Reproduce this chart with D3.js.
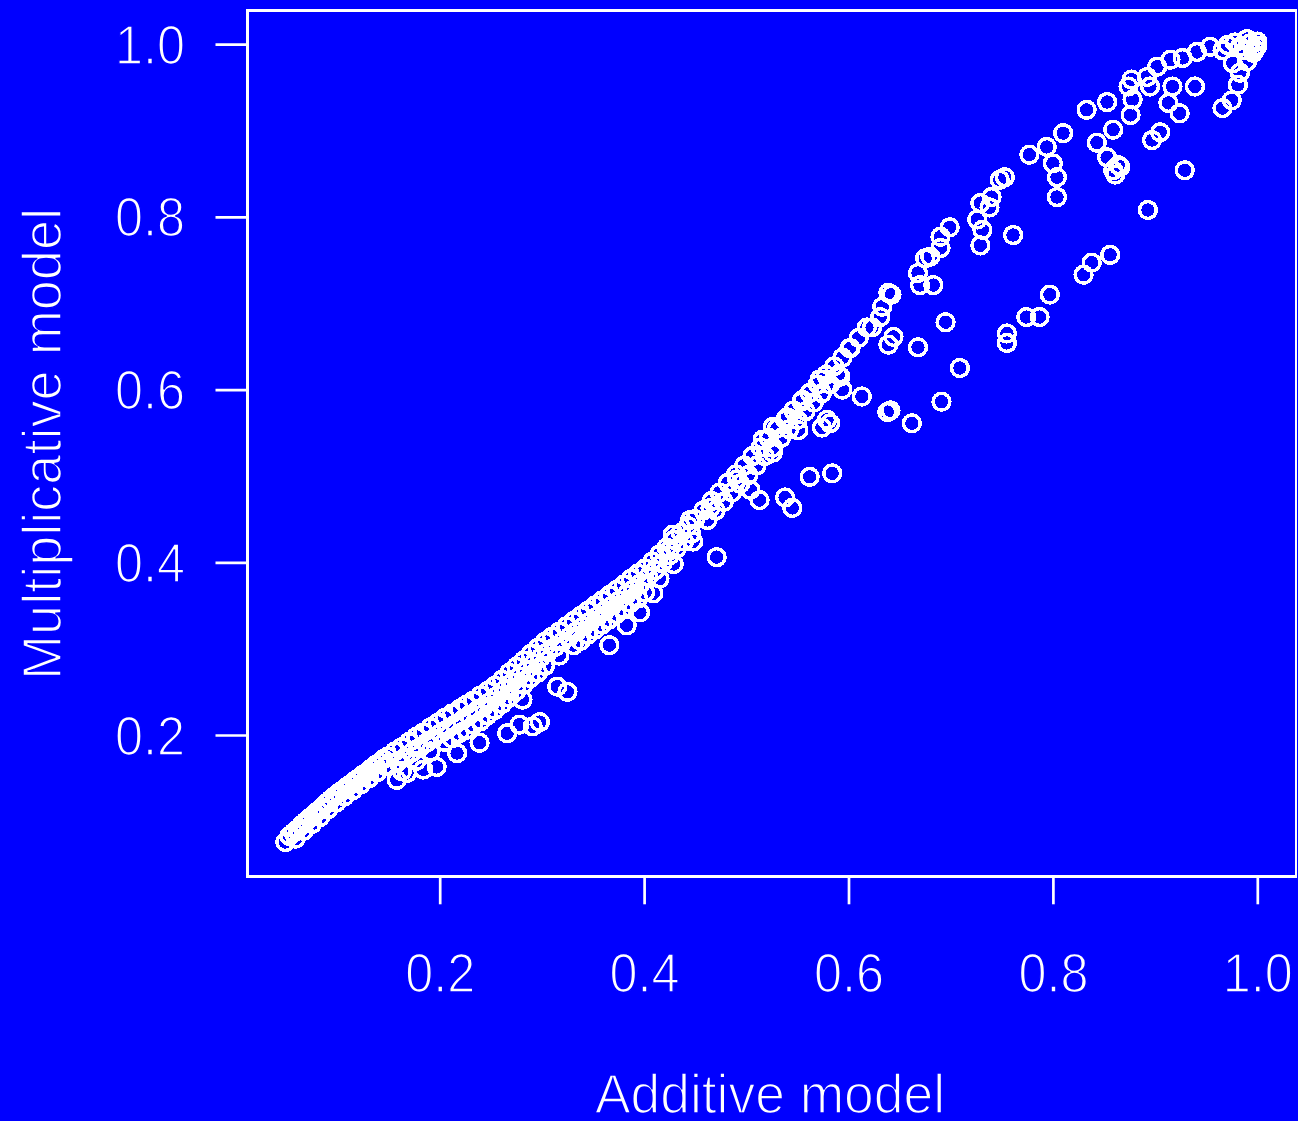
<!DOCTYPE html>
<html>
<head>
<meta charset="utf-8">
<script src="https://cdn.jsdelivr.net/npm/d3@7"></script>
<style>
  html, body { margin: 0; padding: 0; background: #0000ff; }
  svg { display: block; }
</style>
</head>
<body>
<svg id="chart" width="1298" height="1121"></svg>
<script>
// [additive, multiplicative] pairs

// solid stretch at the low end
const lowBand = [
  [0.049,0.076],[0.053,0.083],[0.057,0.087],[0.061,0.091],[0.065,0.096],[0.069,0.100],[0.073,0.104],
  [0.077,0.108],[0.081,0.112],[0.085,0.116],[0.089,0.121],[0.093,0.125],[0.097,0.129],[0.101,0.133],
  [0.105,0.136],[0.109,0.140],[0.113,0.143],[0.117,0.147],[0.121,0.150],[0.125,0.154],[0.129,0.157],
  [0.133,0.161],[0.137,0.165],[0.141,0.168],[0.145,0.172],[0.149,0.175],
  [0.059,0.080],[0.067,0.089],[0.075,0.097],[0.083,0.105],[0.091,0.114],[0.099,0.122],[0.107,0.129],
  [0.115,0.136],[0.123,0.143],[0.131,0.150],[0.139,0.157],[0.147,0.164]
];

// wider band 0.15 - 0.45
const midBand = [
  [0.156,0.181],[0.163,0.186],[0.170,0.192],[0.177,0.198],[0.184,0.203],[0.191,0.209],[0.198,0.214],
  [0.205,0.220],[0.212,0.225],[0.219,0.230],[0.226,0.235],[0.233,0.240],[0.240,0.246],[0.247,0.251],
  [0.254,0.257],[0.261,0.264],[0.268,0.272],[0.275,0.279],[0.282,0.286],[0.289,0.294],[0.296,0.301],
  [0.303,0.308],[0.310,0.314],[0.317,0.320],[0.324,0.326],[0.331,0.332],[0.338,0.338],[0.345,0.344],
  [0.352,0.350],[0.359,0.356],[0.366,0.362],[0.373,0.368],[0.380,0.374],[0.387,0.381],[0.394,0.387],
  [0.401,0.393],[0.408,0.401],[0.415,0.409],[0.422,0.417],[0.429,0.426],[0.436,0.434],[0.443,0.442],
  [0.450,0.450],
  [0.159,0.169],[0.166,0.174],[0.173,0.180],[0.180,0.185],[0.187,0.191],[0.194,0.196],[0.201,0.202],
  [0.208,0.207],[0.215,0.212],[0.222,0.217],[0.229,0.223],[0.236,0.228],[0.243,0.233],[0.250,0.239],
  [0.257,0.246],[0.264,0.253],[0.271,0.261],[0.278,0.268],[0.285,0.275],[0.292,0.283],[0.299,0.290],
  [0.306,0.296],[0.313,0.302],[0.320,0.308],[0.327,0.314],[0.334,0.320],[0.341,0.326],[0.348,0.332],
  [0.355,0.338],[0.362,0.344],[0.369,0.350],[0.376,0.356],[0.383,0.363],[0.390,0.369],[0.397,0.376],
  [0.404,0.383],[0.411,0.391],[0.418,0.399],[0.425,0.408],[0.432,0.416],[0.439,0.424],[0.446,0.433],
  [0.163,0.158],[0.177,0.170],[0.191,0.181],[0.205,0.192],[0.219,0.202],[0.233,0.212],[0.247,0.223],
  [0.261,0.236],[0.275,0.251],[0.289,0.266],[0.303,0.280],[0.317,0.292],[0.331,0.304],[0.345,0.316],
  [0.359,0.328],[0.373,0.340],[0.387,0.353],[0.401,0.365],[0.415,0.381],[0.429,0.398],
  [0.212,0.196],[0.226,0.206],[0.240,0.216],[0.254,0.229],[0.268,0.243],[0.282,0.258],[0.296,0.272],
  [0.338,0.309],[0.352,0.322],[0.366,0.334],[0.380,0.346],[0.394,0.358]
];

// thinner band 0.45 - 0.62
const upperBand = [
  [0.458,0.460],[0.466,0.471],[0.474,0.481],[0.482,0.492],[0.490,0.502],[0.498,0.512],[0.506,0.523],
  [0.514,0.533],[0.522,0.544],[0.530,0.555],[0.538,0.565],[0.546,0.576],[0.554,0.586],[0.562,0.596],
  [0.570,0.606],[0.578,0.617],[0.586,0.627],[0.594,0.637],[0.602,0.648],[0.610,0.660],[0.618,0.672],
  [0.462,0.449],[0.470,0.460],[0.478,0.470],[0.486,0.481],[0.494,0.491],[0.502,0.501],[0.510,0.512],
  [0.518,0.523],[0.526,0.533],[0.534,0.544],[0.542,0.554],[0.550,0.565],[0.558,0.575],[0.566,0.585],
  [0.574,0.596],[0.582,0.606],[0.590,0.617]
];

// circles hanging under the band
const belowBand = [
  [0.158,0.148],[0.168,0.156],[0.184,0.160],[0.197,0.163],[0.217,0.179],[0.239,0.191],[0.266,0.202],
  [0.278,0.212],[0.291,0.210],[0.298,0.215],[0.281,0.241],[0.315,0.256],[0.325,0.250],[0.366,0.304],
  [0.383,0.327],[0.396,0.342],[0.409,0.364],[0.425,0.414],[0.428,0.432],[0.448,0.424],[0.445,0.449],
  [0.465,0.463],[0.471,0.406],[0.491,0.496],[0.504,0.484],[0.513,0.472],[0.526,0.527],[0.516,0.542],
  [0.538,0.475],[0.545,0.463],[0.526,0.557],[0.540,0.568],[0.551,0.553],[0.555,0.588],[0.562,0.499],
  [0.584,0.503],[0.574,0.556],[0.579,0.565],[0.582,0.561],[0.572,0.612],[0.592,0.615],[0.594,0.600],
  [0.613,0.592],[0.638,0.574],[0.641,0.576],[0.662,0.561],[0.691,0.586],[0.709,0.625],[0.639,0.652],
  [0.644,0.661],[0.668,0.649],[0.695,0.678],[0.755,0.665],[0.755,0.654],[0.774,0.684],[0.787,0.684],
  [0.797,0.710],[0.830,0.733],[0.838,0.747],[0.856,0.756],[0.893,0.808],[0.929,0.854]
];

// upper right branch 0.6 - 0.95
const rightBranch = [
  [0.601,0.648],[0.623,0.672],[0.631,0.684],[0.633,0.696],[0.642,0.710],[0.639,0.712],[0.668,0.735],
  [0.670,0.721],[0.683,0.721],[0.675,0.752],[0.680,0.754],[0.690,0.764],[0.690,0.777],[0.699,0.788],
  [0.726,0.797],[0.731,0.785],[0.729,0.767],[0.729,0.816],[0.738,0.811],[0.740,0.823],[0.748,0.843],
  [0.753,0.846],[0.761,0.779],[0.777,0.872],[0.794,0.881],[0.800,0.862],[0.804,0.846],[0.804,0.823],
  [0.810,0.897],[0.833,0.924],[0.843,0.886],[0.853,0.933],[0.853,0.869],[0.859,0.901],[0.859,0.854],
  [0.861,0.849],[0.864,0.860],[0.866,0.858],[0.874,0.951],[0.876,0.918],[0.878,0.936],[0.877,0.959],
  [0.892,0.962],[0.895,0.951],[0.897,0.889],[0.902,0.974],[0.905,0.898],[0.913,0.932],[0.915,0.982],
  [0.917,0.951],[0.924,0.920],[0.927,0.984],[0.939,0.951],[0.941,0.991]
];

// pile-up near (1, 1)
const topCluster = [
  [0.954,0.997],[0.966,0.993],[0.966,0.926],[0.971,0.999],[0.975,0.935],[0.976,0.978],[0.978,1.002],
  [0.981,0.953],[0.983,0.967],[0.983,0.997],[0.988,0.993],[0.990,0.980],[0.990,1.006],[0.993,1.001],
  [0.996,0.990],[1.000,1.003],[1.000,0.998],[0.998,0.994]
];

const xTicks = [0.2, 0.4, 0.6, 0.8, 1.0];
const yTicks = [0.2, 0.4, 0.6, 0.8, 1.0];
const xTitle = "Additive model";
const yTitle = "Multiplicative model";

const allPoints = [].concat(lowBand, midBand, upperBand, belowBand, rightBranch, topCluster);

const svg = d3.select("#chart");
const fg = "#ffffff", bg = "#0000ff";
const font = "'Liberation Sans', Arial, Helvetica, sans-serif";

const box = { left: 247.5, top: 10.7, right: 1296, bottom: 876.3 };
const x = d3.scaleLinear().domain([0, 1]).range([235.3, 1257.3]);
const y = d3.scaleLinear().domain([0, 1]).range([907.7, 44.2]);

svg.append("rect")
  .attr("width", 1298).attr("height", 1121)
  .attr("fill", bg);

// points
svg.append("g")
  .selectAll("circle")
  .data(allPoints)
  .enter()
  .append("circle")
  .attr("cx", d => x(d[0]))
  .attr("cy", d => y(d[1]))
  .attr("r", 8.4)
  .attr("fill", "none")
  .attr("stroke", fg)
  .attr("stroke-width", 3.5)
  .attr("shape-rendering", "crispEdges");

// frame
svg.append("rect")
  .attr("x", box.left).attr("y", box.top)
  .attr("width", box.right - box.left)
  .attr("height", box.bottom - box.top)
  .attr("fill", "none")
  .attr("stroke", fg)
  .attr("stroke-width", 2.7)
  .attr("shape-rendering", "crispEdges");

function styleText(sel) {
  sel.attr("fill", fg)
    .attr("stroke", bg)
    .attr("stroke-width", 1.6)
    .style("font-family", font)
    .style("font-size", "56px");
}

// y axis
const yAxis = svg.append("g")
  .attr("transform", `translate(${box.left},0)`)
  .call(d3.axisLeft(y).tickValues(yTicks).tickSize(32).tickFormat(d3.format(".1f")));
yAxis.select(".domain").remove();
yAxis.selectAll("line").attr("stroke", fg).attr("stroke-width", 2.7);
yAxis.selectAll("text")
  .attr("x", 185 - box.left)
  .attr("y", 19)
  .attr("dy", null)
  .attr("text-anchor", "end")
  .attr("textLength", 70)
  .attr("lengthAdjust", "spacingAndGlyphs")
  .call(styleText);

// x axis
const xAxis = svg.append("g")
  .attr("transform", `translate(0,${box.bottom})`)
  .call(d3.axisBottom(x).tickValues(xTicks).tickSize(28).tickFormat(d3.format(".1f")));
xAxis.select(".domain").remove();
xAxis.selectAll("line").attr("stroke", fg).attr("stroke-width", 2.7);
xAxis.selectAll("text")
  .attr("y", 992 - box.bottom)
  .attr("dy", null)
  .attr("text-anchor", "middle")
  .attr("textLength", 70)
  .attr("lengthAdjust", "spacingAndGlyphs")
  .call(styleText);

// axis titles
svg.append("text")
  .attr("x", 770).attr("y", 1113)
  .attr("text-anchor", "middle")
  .attr("textLength", 350)
  .attr("lengthAdjust", "spacingAndGlyphs")
  .text(xTitle)
  .call(styleText);

svg.append("text")
  .attr("transform", "translate(61,444) rotate(-90)")
  .attr("text-anchor", "middle")
  .attr("textLength", 472)
  .attr("lengthAdjust", "spacingAndGlyphs")
  .text(yTitle)
  .call(styleText);
</script>
</body>
</html>
